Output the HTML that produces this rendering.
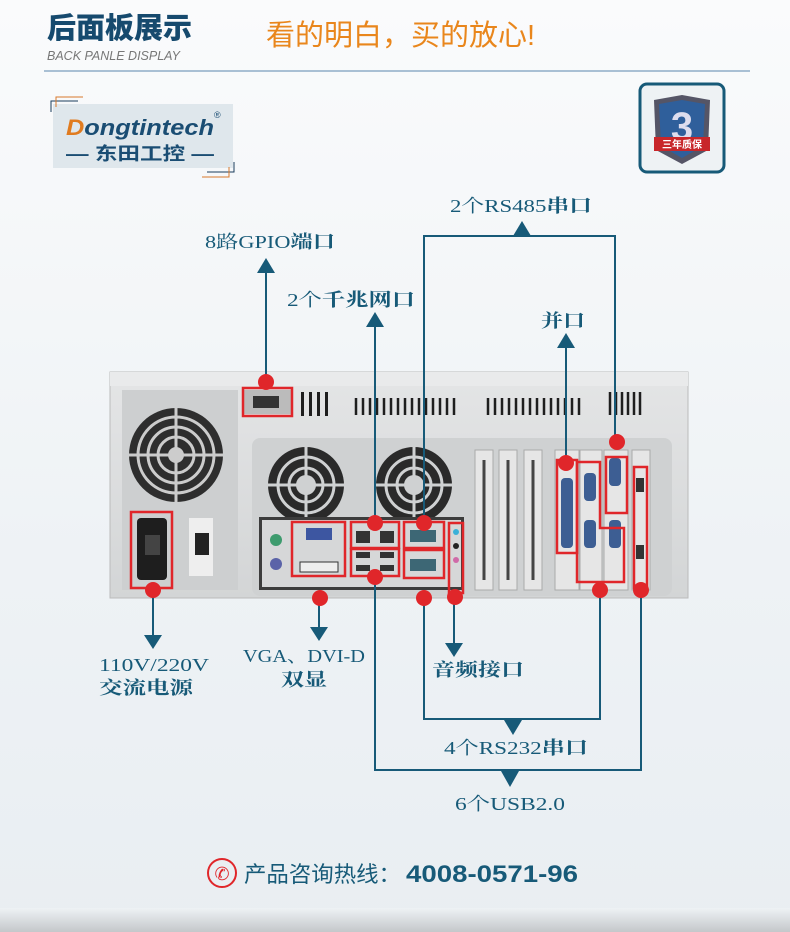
<!DOCTYPE html>
<html><head><meta charset="utf-8"><style>
html,body{margin:0;padding:0}
body{width:790px;height:932px;overflow:hidden;background:linear-gradient(#fafbfc,#eef2f5 60%,#e9eef2);font-family:"Liberation Sans","Noto Sans CJK SC",sans-serif}
svg{display:block}
</style></head><body>
<svg width="790" height="932" viewBox="0 0 790 932" xmlns="http://www.w3.org/2000/svg">
<defs>
<linearGradient id="bot" x1="0" y1="0" x2="0" y2="1"><stop offset="0" stop-color="#eef2f5"/><stop offset="1" stop-color="#c4c7ca"/></linearGradient>
<linearGradient id="ch" x1="0" y1="0" x2="0" y2="1"><stop offset="0" stop-color="#e4e5e6"/><stop offset="1" stop-color="#d3d5d6"/></linearGradient>
</defs>
<rect x="0" y="908" width="790" height="24" fill="url(#bot)"/>
<!-- header -->
<text x="47" y="38" font-family="Liberation Sans,Noto Sans CJK SC,sans-serif" font-weight="900" font-size="29" fill="#164a6e">后面板展示</text>
<text x="47" y="60" font-size="12.5" fill="#777" font-style="italic">BACK PANLE DISPLAY</text>
<text x="266" y="45" font-size="29" fill="#e9861c" font-family="Liberation Sans,Noto Sans CJK SC,sans-serif">看的明白，买的放心!</text>
<line x1="44" y1="71" x2="750" y2="71" stroke="#a9c0d4" stroke-width="2"/>
<!-- logo -->
<rect x="53" y="104" width="180" height="64" fill="#dfe7ec"/>
<path d="M51 112 V101 H78" stroke="#1a3d5c" fill="none"/><path d="M56 107 V97 H83" stroke="#d8792c" fill="none"/>
<path d="M234 162 V172 H207" stroke="#1a3d5c" fill="none"/><path d="M229 167 V177 H202" stroke="#d8792c" fill="none"/>
<text x="66" y="135" font-size="22" font-weight="bold" font-style="italic" fill="#1a4d73" textLength="148" lengthAdjust="spacingAndGlyphs"><tspan fill="#e07b1f">D</tspan>ongtintech</text>
<text x="214" y="118" font-size="9" fill="#1a4d73">®</text>
<text x="66" y="160" font-size="18" font-weight="bold" fill="#1a4d73" textLength="148" lengthAdjust="spacingAndGlyphs">— 东田工控 —</text>
<!-- warranty -->
<rect x="640" y="84" width="84" height="88" rx="7" fill="#eef2f4" stroke="#175a78" stroke-width="3"/>
<path d="M654 100 L682 95 L710 100 L708 150 L682 164 L656 150 Z" fill="#556"/>
<path d="M659 104 L682 100 L705 104 L703 146 L682 158 L661 146 Z" fill="#2f5f9b"/>
<text x="682" y="140" font-size="40" font-weight="900" fill="#dde" text-anchor="middle">3</text>
<rect x="654" y="137" width="56" height="14" fill="#c8262a"/>
<text x="682" y="148" font-size="10" fill="#fff" text-anchor="middle" font-weight="bold">三年质保</text>

<!-- chassis -->
<rect x="110" y="372" width="578" height="226" fill="url(#ch)" stroke="#bbb"/>
<rect x="110" y="372" width="578" height="14" fill="#e9eaeb"/>
<rect x="122" y="390" width="116" height="200" fill="#cdcfd0"/>
<circle cx="176" cy="455" r="47" fill="#2e2e2e"/>
<g fill="none" stroke="#ccc" stroke-width="3"><circle cx="176" cy="455" r="38"/><circle cx="176" cy="455" r="28"/><circle cx="176" cy="455" r="18"/><line x1="176" y1="408" x2="176" y2="502"/><line x1="129" y1="455" x2="223" y2="455"/></g>
<circle cx="176" cy="455" r="8" fill="#ccc"/>
<rect x="137" y="518" width="30" height="62" rx="4" fill="#1e1e1e"/>
<rect x="145" y="535" width="15" height="20" fill="#444"/>
<rect x="189" y="518" width="24" height="58" fill="#eee"/>
<rect x="195" y="533" width="14" height="22" fill="#222"/>
<rect x="243" y="390" width="48" height="24" fill="#bbb"/><rect x="253" y="396" width="26" height="12" fill="#333"/>
<g fill="#1e1e1e">
<rect x="301" y="392" width="3" height="24"/><rect x="309" y="392" width="3" height="24"/><rect x="317" y="392" width="3" height="24"/><rect x="325" y="392" width="3" height="24"/>
</g>
<g stroke="#1e1e1e" stroke-width="2.5">
<path d="M356 398V415M363 398V415M370 398V415M377 398V415M384 398V415M391 398V415M398 398V415M405 398V415M412 398V415M419 398V415M426 398V415M433 398V415M440 398V415M447 398V415M454 398V415"/>
<path d="M488 398V415M495 398V415M502 398V415M509 398V415M516 398V415M523 398V415M530 398V415M537 398V415M544 398V415M551 398V415M558 398V415M565 398V415M572 398V415M579 398V415"/>
<path d="M610 392V415M616 392V415M622 392V415M628 392V415M634 392V415M640 392V415"/>
</g>
<rect x="252" y="438" width="420" height="158" rx="8" fill="#cfd1d2"/>
<g><circle cx="306" cy="485" r="38" fill="#2a2a2a"/><circle cx="414" cy="485" r="38" fill="#2a2a2a"/>
<g fill="none" stroke="#cfd1d2" stroke-width="3"><circle cx="306" cy="485" r="28"/><circle cx="306" cy="485" r="17"/><circle cx="414" cy="485" r="28"/><circle cx="414" cy="485" r="17"/>
<path d="M268 485H344M306 447V523M376 485H452M414 447V523"/></g>
<circle cx="306" cy="485" r="10" fill="#cfd1d2"/><circle cx="414" cy="485" r="10" fill="#cfd1d2"/></g>
<rect x="259" y="517" width="205" height="73" fill="#3c3c3c"/>
<rect x="262" y="520" width="199" height="67" fill="#d6d7d8"/>
<circle cx="276" cy="540" r="6" fill="#3e9b6e"/><circle cx="276" cy="564" r="6" fill="#5b63a8"/>
<rect x="306" y="528" width="26" height="12" fill="#3d56a1"/><rect x="300" y="562" width="38" height="10" fill="#eee" stroke="#333"/>
<rect x="356" y="531" width="14" height="12" fill="#333"/><rect x="380" y="531" width="14" height="12" fill="#333"/>
<rect x="356" y="552" width="14" height="6" fill="#333"/><rect x="380" y="552" width="14" height="6" fill="#333"/>
<rect x="356" y="565" width="14" height="6" fill="#333"/><rect x="380" y="565" width="14" height="6" fill="#333"/>
<rect x="410" y="530" width="26" height="12" fill="#3d6775"/><rect x="410" y="559" width="26" height="12" fill="#3d6775"/>
<circle cx="456" cy="532" r="3" fill="#3ab0d8"/><circle cx="456" cy="546" r="3" fill="#222"/><circle cx="456" cy="560" r="3" fill="#d06aa8"/>
<g fill="#e6e6e6" stroke="#aaa"><rect x="475" y="450" width="18" height="140"/><rect x="499" y="450" width="18" height="140"/><rect x="524" y="450" width="18" height="140"/><rect x="555" y="450" width="24" height="140"/><rect x="580" y="450" width="22" height="140"/><rect x="604" y="450" width="24" height="140"/><rect x="632" y="450" width="18" height="140"/></g>
<g stroke="#444" stroke-width="3"><path d="M484 460V580M508 460V580M533 460V580"/></g>
<rect x="561" y="478" width="12" height="70" rx="4" fill="#3d5e93"/>
<rect x="584" y="473" width="12" height="28" rx="4" fill="#3d5e93"/><rect x="584" y="520" width="12" height="28" rx="4" fill="#3d5e93"/>
<rect x="609" y="458" width="12" height="28" rx="4" fill="#3d5e93"/><rect x="609" y="520" width="12" height="28" rx="4" fill="#3d5e93"/>
<rect x="636" y="478" width="8" height="14" fill="#333"/><rect x="636" y="545" width="8" height="14" fill="#333"/>
<!-- red boxes -->
<g fill="none" stroke="#e0262a" stroke-width="2.5">
<rect x="131" y="512" width="41" height="76"/>
<rect x="243" y="388" width="49" height="28"/>
<rect x="292" y="522" width="53" height="54"/>
<rect x="351" y="522" width="48" height="26"/><rect x="351" y="549" width="48" height="27"/>
<rect x="404" y="522" width="40" height="26"/><rect x="404" y="550" width="40" height="28"/>
<rect x="449" y="523" width="14" height="70"/>
<rect x="557" y="460" width="20" height="93"/>
<path d="M577 462H600V528H624V582H577Z"/>
<rect x="606" y="457" width="21" height="56"/>
<rect x="634" y="467" width="13" height="121"/>
</g>
<!-- connectors -->
<g stroke="#175a78" stroke-width="2" fill="none">
<path d="M266 382V268"/><path d="M375 523V322"/><path d="M424 523V236H615V442"/><path d="M566 463V342"/>
<path d="M153 590V640"/><path d="M319 598V630"/><path d="M454 597V648"/>
<path d="M424 598V719H600V590"/><path d="M375 577V770H641V590"/>
</g>
<g fill="#175a78">
<path d="M266 258L257 273H275Z"/><path d="M375 312L366 327H384Z"/><path d="M522 221L513 236H531Z"/><path d="M566 333L557 348H575Z"/>
<path d="M153 649L144 635H162Z"/><path d="M319 641L310 627H328Z"/><path d="M454 657L445 643H463Z"/>
<path d="M513 735L504 720H522Z"/><path d="M510 787L501 771H519Z"/>
</g>
<g fill="#e0262a">
<circle cx="266" cy="382" r="8"/><circle cx="375" cy="523" r="8"/><circle cx="424" cy="523" r="8"/><circle cx="617" cy="442" r="8"/><circle cx="566" cy="463" r="8"/>
<circle cx="153" cy="590" r="8"/><circle cx="320" cy="598" r="8"/><circle cx="455" cy="597" r="8"/><circle cx="424" cy="598" r="8"/><circle cx="600" cy="590" r="8"/><circle cx="375" cy="577" r="8"/><circle cx="641" cy="590" r="8"/>
</g>
<!-- labels -->
<g fill="#175a78" font-family="Liberation Serif,Noto Serif CJK SC,serif" font-size="18" lengthAdjust="spacingAndGlyphs">
<text x="205" y="248" textLength="130" lengthAdjust="spacingAndGlyphs">8路GPIO<tspan font-weight="bold">端口</tspan></text>
<text x="287" y="306" textLength="128" lengthAdjust="spacingAndGlyphs">2个<tspan font-weight="bold">千兆网口</tspan></text>
<text x="450" y="212" textLength="142" lengthAdjust="spacingAndGlyphs">2个RS485<tspan font-weight="bold">串口</tspan></text>
<text x="541" y="327" font-weight="bold" textLength="44" lengthAdjust="spacingAndGlyphs">并口</text>
<text x="99" y="671" textLength="110" lengthAdjust="spacingAndGlyphs">110V/220V</text>
<text x="99" y="694" font-weight="bold" textLength="94" lengthAdjust="spacingAndGlyphs">交流电源</text>
<text x="243" y="662" textLength="122" lengthAdjust="spacingAndGlyphs">VGA、DVI-D</text>
<text x="281" y="686" font-weight="bold" textLength="46" lengthAdjust="spacingAndGlyphs">双显</text>
<text x="432" y="676" font-weight="bold" textLength="92" lengthAdjust="spacingAndGlyphs">音频接口</text>
<text x="444" y="754" textLength="144" lengthAdjust="spacingAndGlyphs">4个RS232<tspan font-weight="bold">串口</tspan></text>
<text x="455" y="810" textLength="110" lengthAdjust="spacingAndGlyphs">6个USB2.0</text>
</g>
<!-- footer -->
<circle cx="222" cy="873" r="14" fill="none" stroke="#e0262a" stroke-width="2"/>
<text x="222" y="880" font-size="18" fill="#e0262a" text-anchor="middle">✆</text>
<text x="244" y="882" font-size="22" fill="#175a78" textLength="157" lengthAdjust="spacingAndGlyphs">产品咨询热线：</text>
<text x="406" y="882" font-size="24" font-weight="bold" fill="#175a78" textLength="172" lengthAdjust="spacingAndGlyphs">4008-0571-96</text>
</svg>
</body></html>
